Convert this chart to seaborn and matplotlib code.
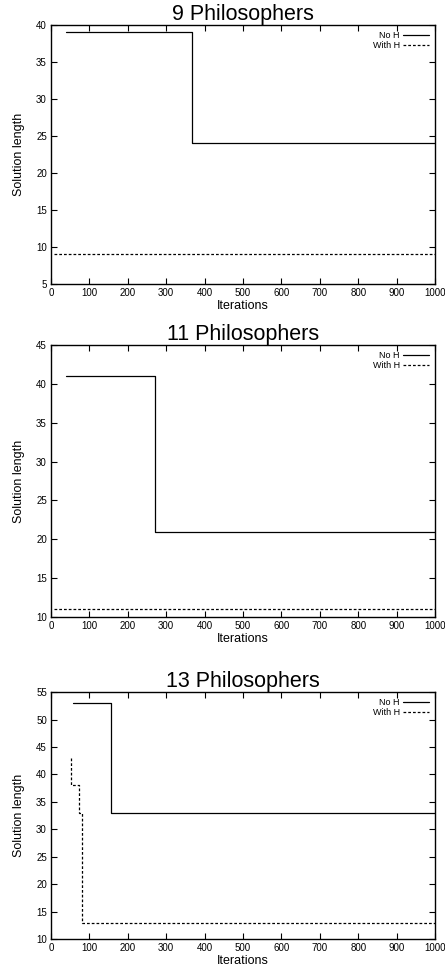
import pandas as pd
import matplotlib
matplotlib.use("Agg")
import matplotlib.pyplot as plt
import seaborn as sns

# ---- data ----
titles = ["9 Philosophers", "11 Philosophers", "13 Philosophers"]

noh_x = [[40, 368, 1000], [40, 271, 1000], [58, 157, 1000]]
noh_y = [[39, 24, 24], [41, 21, 21], [53, 33, 33]]

withh_x = [[8, 1000], [8, 1000], [51, 52, 72, 80, 1000]]
withh_y = [[9, 9], [11, 11], [43, 38, 33, 13, 13]]

ylims = [(5, 40), (10, 45), (10, 55)]

# ---- style ----
sns.set_style("ticks")
plt.rcParams["font.family"] = ["Liberation Sans", "DejaVu Sans"]
plt.rcParams.update({"xtick.direction": "in", "ytick.direction": "in",
                     "xtick.top": True, "ytick.right": True,
                     "xtick.major.size": 4, "ytick.major.size": 4,
                     "xtick.major.width": 0.8, "ytick.major.width": 0.8,
                     "axes.linewidth": 1.0, "axes.edgecolor": "black",
                     "text.color": "black", "axes.labelcolor": "black",
                     "xtick.color": "black", "ytick.color": "black"})

fig = plt.figure(figsize=(4.45, 9.8), dpi=100)

# axes boxes in figure fraction: left, bottom, width, height
boxes = [(0.1146, 0.7102, 0.863, 0.2643),
         (0.1146, 0.3704, 0.863, 0.2776),
         (0.1146, 0.0418, 0.863, 0.2520)]

for i in range(3):
    ax = fig.add_axes(boxes[i])
    d1 = pd.DataFrame({"x": noh_x[i], "y": noh_y[i]})
    d2 = pd.DataFrame({"x": withh_x[i], "y": withh_y[i]})
    sns.lineplot(data=d1, x="x", y="y", ax=ax, color="black", lw=0.9,
                 drawstyle="steps-post", label="No H")
    sns.lineplot(data=d2, x="x", y="y", ax=ax, color="black", lw=0.9,
                 drawstyle="steps-post", linestyle=(0, (2.2, 1.6)), label="With H")
    ax.set_xlim(0, 1000)
    ax.set_ylim(*ylims[i])
    ax.set_xticks(range(0, 1001, 100))
    ax.set_yticks(range(ylims[i][0], ylims[i][1] + 1, 5))
    ax.tick_params(labelsize=7, pad=3)
    ax.set_xlabel("Iterations", fontsize=9, labelpad=1)
    ax.set_ylabel("Solution length", fontsize=9, labelpad=8)
    ax.set_title(titles[i], fontsize=15.5, pad=-1)
    ax.legend(loc="upper right", frameon=False, fontsize=6.5, markerfirst=False,
              handlelength=2.8, handletextpad=0.4, labelspacing=0.1,
              borderaxespad=0.3)

fig.savefig("out.png", dpi=100, facecolor="white")
